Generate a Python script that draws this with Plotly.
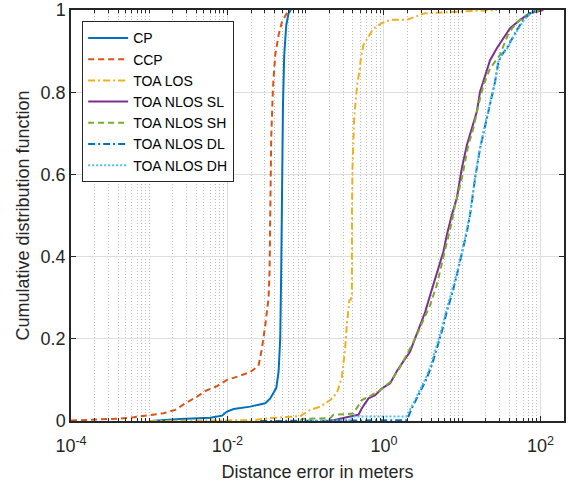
import plotly.graph_objects as go

# ---- data (distance error in meters, CDF value) ----
cp_x = [0.00103, 0.00249, 0.00603, 0.00851, 0.00986, 0.0120, 0.0195, 0.0304, 0.0352, 0.0420,
        0.0450, 0.0472, 0.0486, 0.0497, 0.0512, 0.0531, 0.0564, 0.0603, 0.0647]
cp_y = [0.0, 0.005, 0.008, 0.013, 0.023, 0.029, 0.035, 0.043, 0.055, 0.080,
        0.120, 0.201, 0.363, 0.607, 0.769, 0.890, 0.963, 0.992, 1.0]

ccp_x = [0.000100, 0.000177, 0.000289, 0.000428, 0.000632, 0.000982, 0.00153, 0.00215, 0.00289,
         0.00400, 0.00521, 0.00735, 0.00986, 0.0139, 0.0195, 0.0249, 0.0276, 0.0304, 0.0335,
         0.0345, 0.0352, 0.0362, 0.0381, 0.0407, 0.0450, 0.0497, 0.0603]
ccp_y = [0.001, 0.0024, 0.0036, 0.006, 0.009, 0.014, 0.019, 0.027, 0.043,
         0.058, 0.073, 0.085, 0.100, 0.109, 0.119, 0.134, 0.177, 0.233, 0.299,
         0.363, 0.524, 0.688, 0.809, 0.890, 0.939, 0.971, 1.0]

los_x = [0.00103, 0.0213, 0.0352, 0.0851, 0.114, 0.153, 0.206, 0.250, 0.290, 0.319, 0.336,
         0.362, 0.376, 0.389, 0.390, 0.396, 0.416, 0.442, 0.459, 0.486, 0.507, 0.547, 0.634,
         0.735, 0.940, 1.20, 1.96, 2.63, 3.30, 15.0, 27.7]
los_y = [0.0, 0.002, 0.007, 0.012, 0.027, 0.035, 0.051, 0.068, 0.107, 0.177, 0.236,
         0.294, 0.295, 0.304, 0.509, 0.615, 0.737, 0.785, 0.826, 0.850, 0.882, 0.915, 0.935,
         0.955, 0.968, 0.976, 0.976, 0.984, 0.992, 0.998, 1.0]

sl_x = [0.187, 0.226, 0.370, 0.472, 0.522, 0.575, 0.634, 0.773, 0.940, 1.20, 1.46, 1.77, 2.16,
        2.50, 2.90, 3.36, 3.89, 4.51, 5.22, 5.75, 6.35, 7.00, 7.36, 8.53, 9.89, 11.5, 13.3,
        15.4, 16.9, 19.6, 22.7, 27.7, 33.6, 40.9, 55.0, 73.6, 109.0]
sl_y = [0.0, 0.002, 0.011, 0.015, 0.031, 0.043, 0.055, 0.063, 0.079, 0.092, 0.121, 0.145, 0.169,
        0.201, 0.235, 0.265, 0.306, 0.347, 0.388, 0.412, 0.452, 0.485, 0.501, 0.542, 0.615, 0.672, 0.712,
        0.753, 0.801, 0.842, 0.878, 0.907, 0.931, 0.956, 0.976, 0.992, 1.0]

sh_x = [0.0851, 0.0900, 0.206, 0.226, 0.405, 0.522, 0.700, 0.893, 1.20, 1.53, 2.16, 2.63, 3.19,
        3.89, 4.74, 5.48, 6.35, 7.36, 8.11, 9.89, 12.0, 13.9, 16.1, 18.7, 22.7, 26.3, 30.5,
        35.3, 38.9, 45.1, 55.0, 66.8, 89.7, 100.0]
sh_y = [0.0, 0.005, 0.007, 0.015, 0.018, 0.051, 0.063, 0.075, 0.095, 0.124, 0.177, 0.209, 0.246,
        0.282, 0.331, 0.380, 0.428, 0.485, 0.525, 0.590, 0.672, 0.712, 0.769, 0.817, 0.858, 0.874, 0.891,
        0.923, 0.943, 0.959, 0.976, 0.988, 0.996, 1.0]

dl_x = [0.0262, 1.96, 2.27, 2.63, 3.05, 3.53, 4.09, 4.74, 5.48, 6.35, 7.36, 8.53, 9.89, 11.5,
        12.6, 14.6, 16.9, 19.6, 22.7, 26.3, 29.0, 32.1, 37.2, 43.1, 49.9, 60.5, 73.6, 89.7]
dl_y = [0.0, 0.002, 0.031, 0.055, 0.079, 0.104, 0.136, 0.177, 0.217, 0.266, 0.307, 0.355, 0.404, 0.461,
        0.501, 0.590, 0.663, 0.720, 0.769, 0.825, 0.874, 0.891, 0.907, 0.931, 0.951, 0.976, 0.992, 1.0]

dh_x = [0.0851, 0.376, 0.389, 1.92, 2.20, 2.55, 2.95, 3.42, 3.96, 4.60, 5.33, 6.20, 7.20, 8.40,
        9.75, 11.4, 12.5, 14.5, 16.8, 19.5, 22.6, 26.2, 28.9, 32.5, 38.0, 44.0, 51.0, 62.0, 75.0, 92.0]
dh_y = [0.0, 0.002, 0.011, 0.011, 0.031, 0.055, 0.079, 0.104, 0.136, 0.177, 0.217, 0.266, 0.307, 0.355,
        0.404, 0.461, 0.501, 0.590, 0.663, 0.720, 0.769, 0.825, 0.874, 0.891, 0.907, 0.931, 0.951, 0.976, 0.992, 1.0]

series = [
    ("CP", cp_x, cp_y, "#0072BD", "solid"),
    ("CCP", ccp_x, ccp_y, "#D95319", "6px,4px"),
    ("TOA LOS", los_x, los_y, "#EDB120", "7px,3px,2px,3px"),
    ("TOA NLOS SL", sl_x, sl_y, "#7E2F8E", "solid"),
    ("TOA NLOS SH", sh_x, sh_y, "#77AC30", "6px,4px"),
    ("TOA NLOS DL", dl_x, dl_y, "#0072BD", "7px,3px,2px,3px"),
    ("TOA NLOS DH", dh_x, dh_y, "#4DBEEE", "2px,2px"),
]

x_tick_vals = [1e-4, 1e-2, 1, 100]
x_tick_text = ["10<sup>-4</sup>", "10<sup>-2</sup>", "10<sup>0</sup>", "10<sup>2</sup>"]
y_tick_vals = [0, 0.2, 0.4, 0.6, 0.8, 1]
y_tick_text = ["0", "0.2", "0.4", "0.6", "0.8", "1"]

minor_vals = []
for k in range(-4, 3):
    for m in range(1, 10):
        v = m * 10.0 ** k
        if v <= 200 and not any(abs(v - t) / t < 1e-9 for t in x_tick_vals):
            minor_vals.append(v)

fig = go.Figure()
for name, xs, ys, col, dash in series:
    fig.add_trace(go.Scatter(x=xs, y=ys, mode="lines", name=name,
                             line=dict(color=col, width=2, dash=dash)))

FONT = "Liberation Sans, Arial, Helvetica, sans-serif"
AX = "#262626"
common = dict(showline=True, linecolor=AX, linewidth=1.5, mirror="ticks",
              ticks="inside", ticklen=5, tickcolor=AX, tickwidth=1,
              showgrid=True, gridcolor="#dedede", gridwidth=1.3, zeroline=False,
              automargin=False, ticklabeloverflow="allow",
              tickfont=dict(family=FONT, size=18, color=AX))

fig.update_layout(
    width=570, height=482,
    margin=dict(l=71, r=6, t=10, b=61),
    paper_bgcolor="white", plot_bgcolor="white",
    font=dict(family=FONT, color=AX),
    showlegend=True,
    legend=dict(x=0.022, y=0.973, xanchor="left", yanchor="top",
                bgcolor="white", bordercolor=AX, borderwidth=1.3,
                font=dict(family=FONT, size=14, color="black"),
                tracegroupgap=0, itemwidth=40),
    xaxis=dict(type="log", range=[-4, 2.301], tickmode="array",
               tickvals=x_tick_vals, ticktext=x_tick_text, ticklabelstandoff=8,
               title=dict(text="Distance error in meters", font=dict(family=FONT, size=18, color=AX), standoff=10),
               minor=dict(tickmode="array", tickvals=minor_vals, ticks="inside", ticklen=3,
                          tickcolor=AX, showgrid=True, gridcolor="#bdbdbd",
                          griddash="1px,2px", gridwidth=1),
               **common),
    yaxis=dict(range=[0, 1], tickmode="array", tickvals=y_tick_vals, ticktext=y_tick_text,
               title=dict(text="Cumulative distribution function", font=dict(family=FONT, size=18, color=AX), standoff=6),
               **common),
)

# remove the browser's default 8px page margin so the figure fills the window
fig.write_html("out.html", config={"displayModeBar": False},
               post_script="document.body.style.margin='0';")
